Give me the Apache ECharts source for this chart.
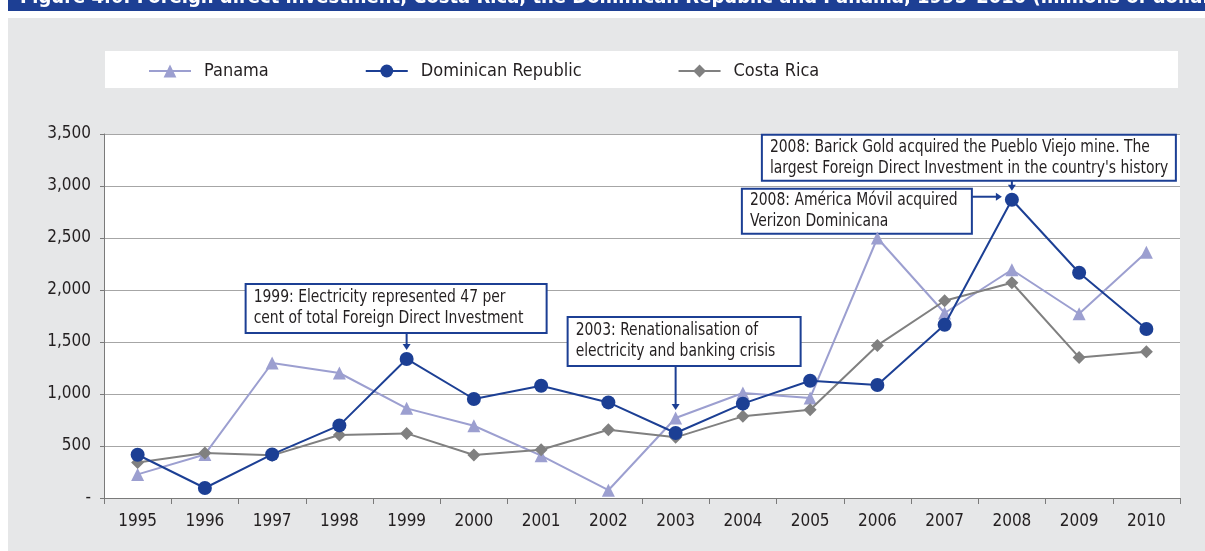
<!DOCTYPE html>
<html>
<head>
<meta charset="utf-8">
<script src="https://cdn.jsdelivr.net/npm/echarts@6/dist/echarts.min.js"></script>
<style>
  html, body { margin: 0; padding: 0; background: #ffffff; }
  #chart { width: 1205px; height: 551px; }
</style>
</head>
<body>
<div id="chart"></div>
<script>
// Foreign direct investment inflows, millions of dollars
const years = ['1995', '1996', '1997', '1998', '1999', '2000', '2001', '2002',
               '2003', '2004', '2005', '2006', '2007', '2008', '2009', '2010'];
const panama    = [227, 419, 1298, 1202, 862, 695, 407, 75, 769, 1010, 962, 2500, 1779, 2195, 1772, 2362];
const dominican = [416, 96, 419, 698, 1337, 952, 1080, 919, 625, 907, 1128, 1087, 1666, 2868, 2166, 1625];
const costaRica = [342, 433, 410, 606, 621, 413, 464, 657, 583, 785, 849, 1467, 1897, 2070, 1352, 1407];

const yTicks = [0, 500, 1000, 1500, 2000, 2500, 3000, 3500];

const titleText = 'Figure 4.6: Foreign direct investment, Costa Rica, the Dominican Republic and Panama, 1995–2010 (millions of dollars)';

const notes = [
  { year: '1999', series: 'dominican', lines: ['1999: Electricity represented 47 per', 'cent of total Foreign Direct Investment'] },
  { year: '2003', series: 'panama', lines: ['2003: Renationalisation of', 'electricity and banking crisis'] },
  { year: '2008', series: 'dominican', lines: ['2008: Barick Gold acquired the Pueblo Viejo mine. The', "largest Foreign Direct Investment in the country's history"] },
  { year: '2008', series: 'dominican', lines: ['2008: América Móvil acquired', 'Verizon Dominicana'] }
];

const FONT = "'Liberation Sans Narrow', 'DejaVu Sans Condensed', 'Liberation Sans', sans-serif";
const TEXT = '#231f20';
const BLUE = '#1c3f94';
const LAVENDER = '#9c9fd0';
const GREY = '#808080';

const chart = echarts.init(document.getElementById('chart'), null, { renderer: 'canvas' });

const seriesData = { panama: panama, dominican: dominican, costaRica: costaRica };

const option = {
  backgroundColor: '#e6e7e8',
  animation: false,
  textStyle: { fontFamily: FONT, color: TEXT },
  grid: {
    left: 104, right: 25, top: 134, bottom: 53,
    show: true, backgroundColor: '#ffffff', borderWidth: 0
  },
  legend: {
    left: 143, top: 57,
    itemWidth: 42, itemHeight: 16, itemGap: 96,
    textStyle: { fontFamily: FONT, fontSize: 18, color: TEXT, padding: [0, 0, 0, 8] },
    data: ['Panama', 'Dominican Republic', 'Costa Rica']
  },
  xAxis: {
    type: 'category',
    data: years,
    boundaryGap: true,
    axisLine: { lineStyle: { color: '#7a7a7a', width: 1 } },
    axisTick: { show: true, interval: 0, length: 6, lineStyle: { color: '#7a7a7a' } },
    axisLabel: { interval: 0, fontFamily: FONT, fontSize: 17, color: TEXT, margin: 15 },
    splitLine: { show: false }
  },
  yAxis: {
    type: 'value',
    min: yTicks[0], max: yTicks[yTicks.length - 1], interval: 500,
    axisLine: { show: true, lineStyle: { color: '#7a7a7a', width: 1 } },
    axisTick: { show: true, length: 4, lineStyle: { color: '#7a7a7a' } },
    axisLabel: {
      fontFamily: FONT, fontSize: 17, color: TEXT, margin: 13,
      formatter: function (v) { return v === 0 ? '-' : v.toLocaleString('en-US'); }
    },
    splitLine: { show: true, lineStyle: { color: '#a6a6a6', width: 1 } }
  },
  series: [
    {
      name: 'Panama', type: 'line', data: panama,
      symbol: 'triangle', symbolSize: 13, showAllSymbol: true,
      lineStyle: { color: LAVENDER, width: 2 },
      itemStyle: { color: LAVENDER, borderWidth: 0 },
      z: 2
    },
    {
      name: 'Dominican Republic', type: 'line', data: dominican,
      symbol: 'circle', symbolSize: 14, showAllSymbol: true,
      lineStyle: { color: BLUE, width: 2 },
      itemStyle: { color: BLUE, borderWidth: 0 },
      z: 4
    },
    {
      name: 'Costa Rica', type: 'line', data: costaRica,
      symbol: 'diamond', symbolSize: 13, showAllSymbol: true,
      lineStyle: { color: GREY, width: 2 },
      itemStyle: { color: GREY, borderWidth: 0 },
      z: 3
    }
  ]
};

chart.setOption(option);

// Pixel position of a data point through the chart's own scales
function pt(year, key) {
  const i = years.indexOf(year);
  return chart.convertToPixel({ xAxisIndex: 0, yAxisIndex: 0 }, [i, seriesData[key][i]]);
}

function noteBox(x, y, w, h, lines) {
  return {
    type: 'group',
    z: 20,
    children: [
      { type: 'rect', shape: { x: x, y: y, width: w, height: h },
        style: { fill: '#ffffff', stroke: BLUE, lineWidth: 2 } },
      { type: 'text', x: x + 8, y: y + h / 2, scaleX: 0.91,
        style: { text: lines.join('\n'), font: '17px ' + FONT, fill: TEXT,
                 verticalAlign: 'middle', align: 'left', lineHeight: 21 } }
    ]
  };
}

function arrowDown(x, y0, y1) {
  return [
    { type: 'line', z: 20, shape: { x1: x, y1: y0, x2: x, y2: y1 - 5 }, style: { stroke: BLUE, lineWidth: 2 } },
    { type: 'polygon', z: 20, shape: { points: [[x - 4, y1 - 6], [x + 4, y1 - 6], [x, y1]] }, style: { fill: BLUE } }
  ];
}

function arrowRight(x0, x1, y) {
  return [
    { type: 'line', z: 20, shape: { x1: x0, y1: y, x2: x1 - 5, y2: y }, style: { stroke: BLUE, lineWidth: 2 } },
    { type: 'polygon', z: 20, shape: { points: [[x1 - 6, y - 4], [x1 - 6, y + 4], [x1, y]] }, style: { fill: BLUE } }
  ];
}

const p1 = pt(notes[0].year, notes[0].series);
const p2 = pt(notes[1].year, notes[1].series);
const p3 = pt(notes[2].year, notes[2].series);

let graphics = [
  // header strip
  { type: 'rect', z: -5, shape: { x: 0, y: 0, width: 1205, height: 18 }, style: { fill: '#ffffff' } },
  { type: 'rect', z: -5, shape: { x: 0, y: 0, width: 8, height: 551 }, style: { fill: '#ffffff' } },
  { type: 'rect', z: -4, shape: { x: 8, y: 0, width: 1197, height: 11 }, style: { fill: '#1d3f94' } },
  { type: 'text', z: -3, x: 20, y: -2,
    style: { text: titleText, font: 'bold 20px ' + FONT, fill: '#ffffff', verticalAlign: 'middle' } },
  // legend panel
  { type: 'rect', z: -2, shape: { x: 105, y: 51, width: 1073, height: 37 }, style: { fill: '#ffffff' } }
];

graphics = graphics.concat(
  [noteBox(p1[0] - 161, p1[1] - 75, 301, 49, notes[0].lines)],
  arrowDown(p1[0], p1[1] - 26, p1[1] - 9),
  [noteBox(p2[0] - 108, p2[1] - 101, 233, 49, notes[1].lines)],
  arrowDown(p2[0], p2[1] - 52, p2[1] - 8),
  [noteBox(p3[0] - 250, p3[1] - 65, 414, 46, notes[2].lines)],
  arrowDown(p3[0], p3[1] - 19, p3[1] - 9),
  [noteBox(p3[0] - 270, p3[1] - 11, 230, 45, notes[3].lines)],
  arrowRight(p3[0] - 40, p3[0] - 10, p3[1] - 3)
);

chart.setOption({ graphic: graphics });
</script>
</body>
</html>
